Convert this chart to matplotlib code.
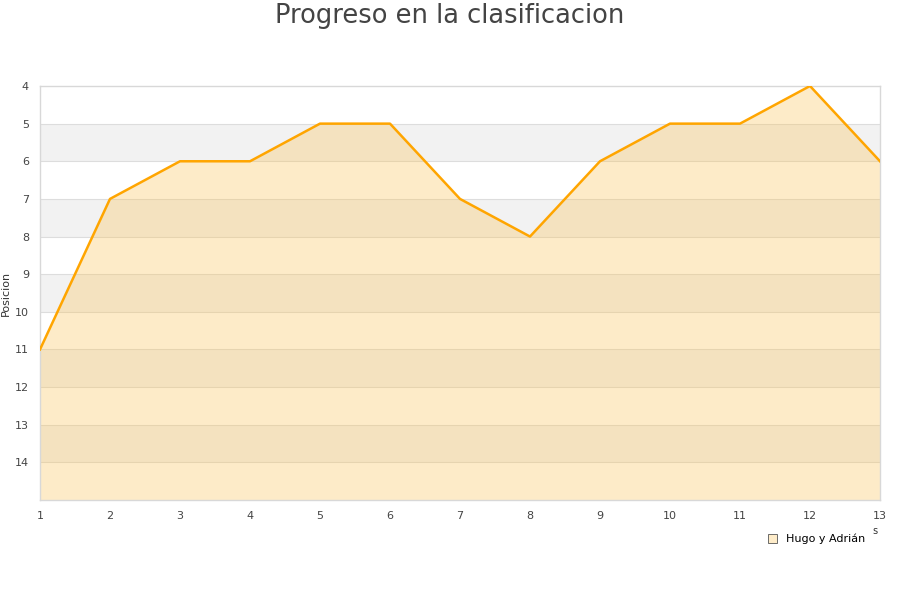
import matplotlib.pyplot as plt
from matplotlib.patches import Patch

# datos
jornadas = [1, 2, 3, 4, 5, 6, 7, 8, 9, 10, 11, 12, 13]
posicion = [11, 7, 6, 6, 5, 5, 7, 8, 6, 5, 5, 4, 6]
y_ticks = [4, 5, 6, 7, 8, 9, 10, 11, 12, 13, 14]
serie = 'Hugo y Adrián'

fig = plt.figure(figsize=(9, 6), dpi=100)
ax = fig.add_axes([40 / 900, 100 / 600, 840 / 900, 414 / 600])

y_min, y_max = 4, 15
# bandas alternas
for i, y in enumerate(range(y_min, y_max)):
    if i % 2 == 1:
        ax.axhspan(y, y + 1, color='#f2f2f2', zorder=0, lw=0)
for y in range(y_min + 1, y_max):
    ax.axhline(y, color='#dddddd', lw=0.8, zorder=1)

ax.fill_between(jornadas, posicion, y_max, color='#fbc04b', alpha=0.3, lw=0, zorder=2)
ax.plot(jornadas, posicion, color='#ffa500', lw=1.8, zorder=3)

ax.set_xlim(1, 13)
ax.set_ylim(y_max, y_min)
ax.set_xticks(jornadas)
ax.set_yticks(y_ticks)
ax.tick_params(length=0, labelsize=8, colors='#444444', pad=8)
for s in ax.spines.values():
    s.set_color('#d8d8d8')
    s.set_linewidth(1)

ax.set_ylabel('Posicion', fontsize=8, color='#333333')
ax.yaxis.set_label_coords((11 - 40) / 840, (500 - 293) / 414)
fig.text(875 / 900, 1 - 531 / 600, 's', fontsize=7, color='#333333', ha='center', va='center')

fig.suptitle('Progreso en la clasificacion', y=1 - 16 / 600, va='center', fontsize=18.5, color='#444444')

handle = Patch(facecolor='#feecc9', edgecolor='#555555', lw=0.6)
fig.legend([handle], [serie], loc='center left', bbox_to_anchor=(758 / 900, 1 - 539 / 600),
           frameon=False, fontsize=8, handlelength=0.8, handleheight=0.8, handletextpad=0.8)

plt.savefig('out.png')
